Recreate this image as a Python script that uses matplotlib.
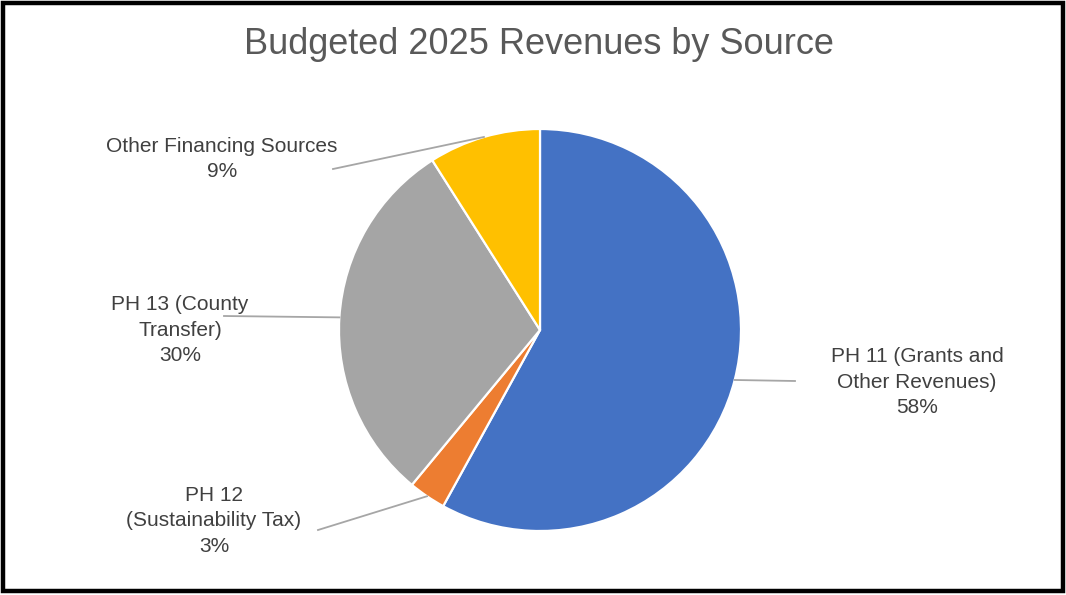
import matplotlib.pyplot as plt
import numpy as np
from matplotlib.patches import Rectangle

plt.rcParams['font.family'] = ['Liberation Sans', 'DejaVu Sans']

# revenue shares, clockwise from 12 o'clock
sources = ["PH 11 (Grants and\nOther Revenues)", "PH 12\n(Sustainability Tax)",
           "PH 13 (County\nTransfer)", "Other Financing Sources"]
shares = [58, 3, 30, 9]
colors = ["#4472C4", "#ED7D31", "#A5A5A5", "#FFC000"]

# where each label sits (pixel coords, y measured from the top)
label_pos = [(917, 382), (214, 521), (180, 330), (222, 159)]
line_end = [(795, 381), (318, 530), (224, 316), (333, 169)]

W, H = 1066, 595
fig = plt.figure(figsize=(W / 100, H / 100), dpi=100)
ax = fig.add_axes([0, 0, 1, 1])

cx, cy, r = 540, H - 330, 201
wedges, _ = ax.pie(shares, colors=colors, startangle=90, counterclock=False,
                   center=(cx, cy), radius=r, frame=True,
                   wedgeprops=dict(edgecolor="white", linewidth=1.6))
ax.set_xlim(0, W)
ax.set_ylim(0, H)
ax.set_aspect("equal")
ax.axis("off")

for w, name, share, (lx, ly), (ex, ey) in zip(wedges, sources, shares, label_pos, line_end):
    mid = np.deg2rad((w.theta1 + w.theta2) / 2)
    sx, sy = cx + r * np.cos(mid), cy + r * np.sin(mid)
    ax.plot([sx, ex], [sy, H - ey], color="#A6A6A6", lw=1.3, zorder=1)
    ax.text(lx, H - ly, f"{name}\n{share}%", ha="center", va="center",
            fontsize=15, color="#404040", linespacing=1.45)

ax.text(539, H - 44, "Budgeted 2025 Revenues by Source", ha="center", va="center",
        fontsize=26, color="#595959")

# black frame round the chart
ax.add_patch(Rectangle((3, 4), W - 6, H - 7, fill=False, edgecolor="black",
                       lw=3.2, zorder=5))

fig.savefig("out.png", dpi=100)
